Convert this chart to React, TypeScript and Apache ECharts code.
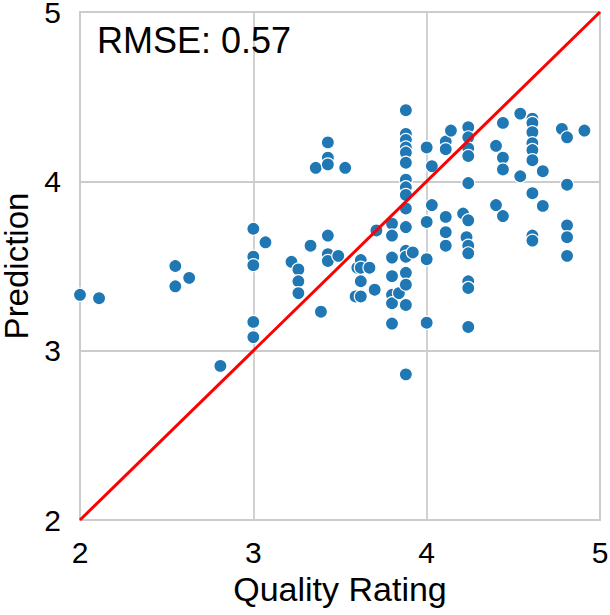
import React, { useEffect, useRef } from "react";
import * as echarts from "echarts";

const qualityRating: number[] = [
  2.0, 2.11, 2.55, 2.55, 2.63, 2.81, 3.0, 3.0, 3.0, 3.0, 3.0, 3.07, 3.22, 3.26, 3.26, 3.26,
  3.33, 3.36, 3.39, 3.43, 3.43, 3.43, 3.43, 3.43, 3.43, 3.49, 3.53, 3.59, 3.6, 3.62, 3.62,
  3.62, 3.62, 3.67, 3.7, 3.71, 3.8, 3.8, 3.8, 3.8, 3.8, 3.8, 3.8, 3.84, 3.88, 3.88, 3.88,
  3.88, 3.88, 3.88, 3.88, 3.88, 3.88, 3.88, 3.88, 3.88, 3.88, 3.88, 3.88, 3.88, 3.88, 3.92,
  4.0, 4.0, 4.0, 4.0, 4.03, 4.03, 4.11, 4.11, 4.11, 4.11, 4.11, 4.14, 4.21, 4.23, 4.24, 4.24,
  4.24, 4.24, 4.24, 4.24, 4.24, 4.24, 4.24, 4.24, 4.24, 4.4, 4.4, 4.44, 4.44, 4.44, 4.44,
  4.54, 4.54, 4.61, 4.61, 4.61, 4.61, 4.61, 4.61, 4.61, 4.61, 4.61, 4.67, 4.67, 4.78, 4.81,
  4.81, 4.81, 4.81, 4.81, 4.91,
];

const prediction: number[] = [
  3.33, 3.31, 3.5, 3.38, 3.43, 2.91, 3.72, 3.555, 3.505, 3.17, 3.08, 3.64, 3.525, 3.48, 3.41, 3.34,
  3.62, 4.08, 3.23, 4.23, 4.14, 4.1, 3.68, 3.57, 3.53, 3.56, 4.08, 3.32, 3.49, 3.535, 3.49,
  3.41, 3.32, 3.49, 3.36, 3.71, 3.75, 3.68, 3.55, 3.44, 3.33, 3.28, 3.16, 3.34, 4.42, 4.28, 4.245,
  4.2, 4.17, 4.11, 4.01, 3.965, 3.92, 3.84, 3.73, 3.59, 3.555, 3.46, 3.39, 3.27, 2.86, 3.58,
  4.2, 3.76, 3.54, 3.165, 4.09, 3.86, 4.235, 4.19, 3.79, 3.7, 3.62, 4.3, 3.81, 3.67, 4.32, 4.26,
  4.195, 4.15, 3.99, 3.77, 3.62, 3.575, 3.41, 3.37, 3.14, 4.21, 3.86, 4.345, 4.14, 4.07, 3.795,
  4.4, 4.03, 4.37, 4.345, 4.29, 4.225, 4.185, 4.125, 3.93, 3.68, 3.65, 4.06, 3.855, 4.31, 4.26,
  3.98, 3.74, 3.67, 3.56, 4.3,
];

const identityLine: number[][] = [
  [2, 2],
  [5, 5],
];

const rmseLabel = "RMSE: 0.57";
const xTitle = "Quality Rating";
const yTitle = "Prediction";

const FONT = "'Liberation Sans', Arial, Helvetica, sans-serif";

export default function App() {
  const ref = useRef<HTMLDivElement>(null);

  useEffect(() => {
    if (!ref.current) return;
    const chart = echarts.init(ref.current, undefined, { renderer: "svg" });
    const points = qualityRating.map((x, i) => [x, prediction[i]]);
    chart.setOption({
      animation: false,
      backgroundColor: "#ffffff",
      textStyle: { fontFamily: FONT },
      grid: {
        left: 80,
        right: 10,
        top: 12,
        bottom: 95,
        show: true,
        borderColor: "#cccccc",
        borderWidth: 2,
        containLabel: false,
        outerBoundsMode: "none",
      },
      xAxis: {
        type: "value",
        min: 2,
        max: 5,
        interval: 1,
        name: xTitle,
        nameLocation: "middle",
        nameGap: 38,
        nameTextStyle: { fontSize: 34, lineHeight: 34, color: "#000", fontFamily: FONT },
        axisLine: { show: false },
        axisTick: { show: false },
        axisLabel: { fontSize: 30, lineHeight: 26, color: "#000", margin: 19, fontFamily: FONT },
        splitLine: { show: true, lineStyle: { color: "#cccccc", width: 1.8 } },
      },
      yAxis: {
        type: "value",
        min: 2,
        max: 5,
        interval: 1,
        name: yTitle,
        nameLocation: "middle",
        nameGap: 45,
        nameRotate: 90,
        nameTextStyle: { fontSize: 33, lineHeight: 30, color: "#000", fontFamily: FONT },
        axisLine: { show: false },
        axisTick: { show: false },
        axisLabel: { fontSize: 30, lineHeight: 24, color: "#000", margin: 19, fontFamily: FONT },
        splitLine: { show: true, lineStyle: { color: "#cccccc", width: 1.8 } },
      },
      graphic: [
        {
          type: "text",
          left: 97,
          top: 22,
          style: { text: rmseLabel, fontSize: 36, fill: "#000", fontFamily: FONT },
          z: 10,
        },
      ],
      series: [
        {
          type: "scatter",
          data: points,
          symbolSize: 13,
          itemStyle: { color: "#1f77b4", borderColor: "#ffffff", borderWidth: 1.2, opacity: 1 },
          z: 2,
        },
        {
          type: "line",
          data: identityLine,
          symbol: "none",
          lineStyle: { color: "#ff0000", width: 3 },
          z: 3,
        },
      ],
    });
    return () => chart.dispose();
  }, []);

  return (
    <div
      ref={ref}
      style={{ position: "fixed", left: 0, top: 0, width: 610, height: 615 }}
    />
  );
}
